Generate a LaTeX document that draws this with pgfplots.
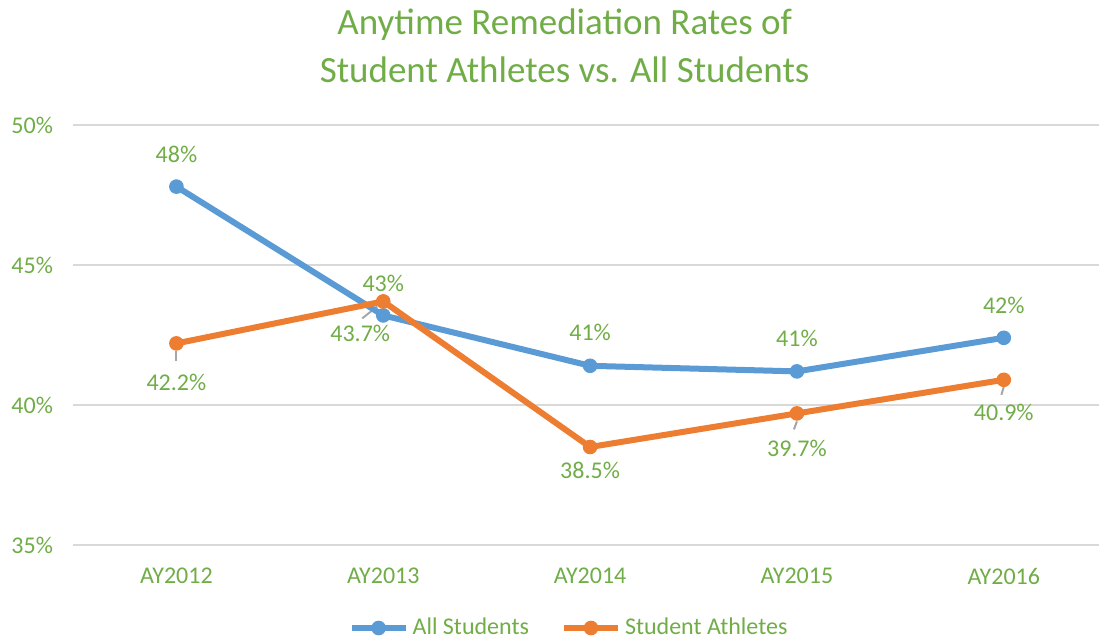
\documentclass[border=0pt]{standalone}
\usepackage{fontspec}
\setmainfont{Carlito}
\usepackage{pgfplots}
\pgfplotsset{compat=1.18}
\usepackage{pgfplotstable}
\definecolor{xlblue}{RGB}{91,155,213}
\definecolor{xlorange}{RGB}{237,125,49}
\definecolor{xlgreen}{RGB}{112,173,71}
\definecolor{xlgrid}{RGB}{217,217,217}
\definecolor{xlleader}{RGB}{166,166,166}

% x = category index, dx/dy = label offset (pt)
\pgfplotstableread{
x y    dx    dy
0 47.8 0     16
1 43.2 0     16
2 41.4 0     16.5
3 41.2 0     16.5
4 42.4 0     16
}\allstudents
\pgfplotstableread{
x y    dx    dy
0 42.2 0     -19.5
1 43.7 -11.5 -16
2 38.5 0     -11.5
3 39.7 0     -17.5
4 40.9 0     -16.5
}\athletes

\begin{document}
\begin{tikzpicture}
\useasboundingbox (-36.5pt,-47pt) rectangle (513pt,272.5pt);
\begin{axis}[
  scale only axis, width=517.1pt, height=210pt,
  at={(0,0)}, anchor=south west,
  clip=false,
  font=\fontsize{12}{14}\selectfont,
  /pgf/number format/assume math mode=true,
  xmin=-0.5, xmax=4.5, ymin=35, ymax=50,
  xtick={0,1,2,3,4},
  xticklabels={AY2012,AY2013,AY2014,AY2015,AY2016},
  ytick={35,40,45,50},
  yticklabel={\pgfmathprintnumber{\tick}\%},
  ymajorgrids, grid style={xlgrid, line width=0.8pt},
  axis line style={draw=none},
  major tick length=0pt,
  tick label style={text=xlgreen},
  yticklabel style={xshift=-6.5pt},
  xticklabel style={yshift=-8pt},
  legend columns=2,
  legend style={at={(axis description cs:0.4806,-0.1976)}, anchor=center,
    draw=none, fill=none, text=xlgreen,
    /tikz/every even column/.append style={column sep=14pt},
    inner sep=0pt},
  legend image code/.code={%
    \draw[mark repeat=2, mark phase=2] plot coordinates {(0pt,0pt) (13.5pt,0pt) (27pt,0pt)};},
  nodes near coords style={anchor=center, text=xlgreen, xshift=\dx pt, yshift=\dy pt},
  visualization depends on={\thisrow{dx} \as \dx},
  visualization depends on={\thisrow{dy} \as \dy},
  point meta=\thisrow{y},
]
% leader lines
\draw[xlleader, line width=1pt] (axis cs:0,42.2) ++(0pt,-4pt) -- ++(0pt,-5pt);
\draw[xlleader, line width=1pt] (axis cs:1,43.7) ++(-10.5pt,-8.5pt) -- ++(7.5pt,6pt);
\draw[xlleader, line width=1pt] (axis cs:3,39.7) ++(-1.5pt,-8pt) -- ++(1.5pt,4pt);
\draw[xlleader, line width=1pt] (axis cs:4,40.9) ++(-1.2pt,-7.5pt) -- ++(1.2pt,4pt);

\addplot[xlblue, line width=3pt, mark=*, mark size=3.4pt,
  mark options={fill=xlblue, draw=xlblue, line width=0.5pt},
  nodes near coords={\pgfmathprintnumber[fixed,precision=0]{\pgfplotspointmeta}\%}]
  table[x=x, y=y] {\allstudents};
\addlegendentry{All Students}
\addplot[xlorange, line width=3pt, mark=*, mark size=3.4pt,
  mark options={fill=xlorange, draw=xlorange, line width=0.5pt},
  nodes near coords={\pgfmathprintnumber[fixed,fixed zerofill,precision=1]{\pgfplotspointmeta}\%}]
  table[x=x, y=y] {\athletes};
\addlegendentry{Student Athletes}

\node[align=center, text=xlgreen, font=\fontsize{18.5}{24}\selectfont]
  at (axis cs:1.877,50) [yshift=39.5pt] {Anytime Remediation Rates of\\Student Athletes vs. All Students};
\end{axis}
\end{tikzpicture}
\end{document}
